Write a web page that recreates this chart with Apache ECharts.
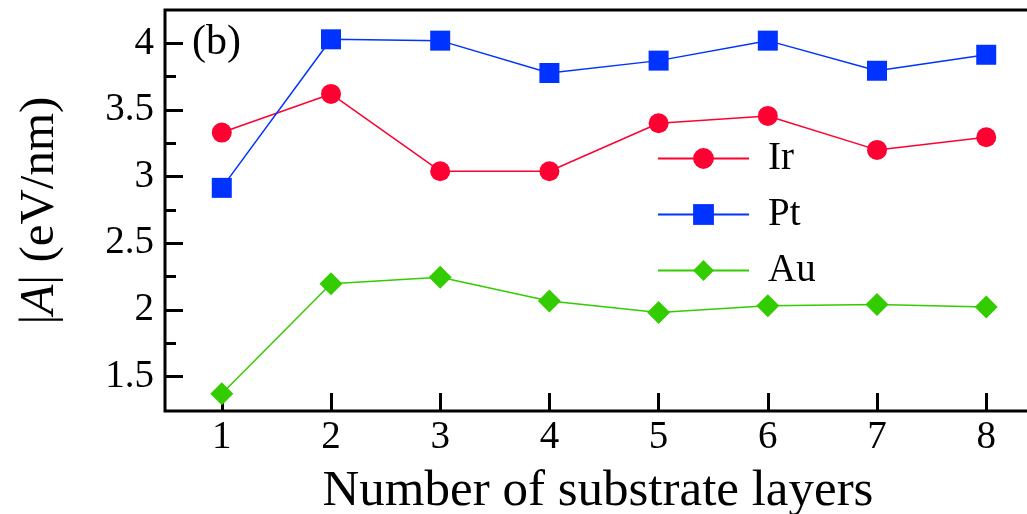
<!DOCTYPE html>
<html>
<head>
<meta charset="utf-8">
<script src="https://cdn.jsdelivr.net/npm/echarts@6/dist/echarts.min.js"></script>
<style>html,body{margin:0;padding:0;background:#fff;}#c{width:1027px;height:514px;}</style>
</head>
<body>
<div id="c"></div>
<script>
const layers = [1, 2, 3, 4, 5, 6, 7, 8];
const irValues = [3.33, 3.62, 3.04, 3.04, 3.40, 3.455, 3.20, 3.295];
const ptValues = [2.915, 4.03, 4.02, 3.777, 3.87, 4.02, 3.794, 3.914];
const auValues = [1.37, 2.195, 2.244, 2.065, 1.98, 2.03, 2.04, 2.02];
const yMajorTicks = [1.5, 2, 2.5, 3, 3.5, 4];
const yMinorTicks = [1.75, 2.25, 2.75, 3.25, 3.75];
const xTicks = [1, 2, 3, 4, 5, 6, 7, 8];

const pair = (vals) => layers.map((x, i) => [x, vals[i]]);
const font = 'Liberation Serif';
const XMIN = 0.48, XMAX = 8.41, YMIN = 1.24, YMAX = 4.25;

const chart = echarts.init(document.getElementById('c'));
chart.setOption({
  animation: false,
  backgroundColor: '#fff',
  grid: {
    left: 165, top: 10, right: -4, bottom: 103, containLabel: false, outerBoundsMode: 'none',
    show: true, borderColor: '#000', borderWidth: 3, backgroundColor: 'transparent'
  },
  xAxis: [{
    type: 'value', min: XMIN, max: XMAX, position: 'bottom',
    axisLine: { show: false },
    axisTick: { show: false },
    axisLabel: { show: true, customValues: xTicks.slice(), fontFamily: font, fontSize: 39, color: '#000', margin: 7 },
    splitLine: { show: false },
    name: 'Number of substrate layers', nameLocation: 'middle', nameGap: 55,
    nameTextStyle: { fontFamily: font, fontSize: 51, color: '#000' }
  }, {
    type: 'value', min: XMIN, max: XMAX, position: 'bottom', offset: 0,
    axisLine: { show: false },
    axisTick: { show: true, inside: true, length: 18, lineStyle: { color: '#000', width: 3 }, customValues: xTicks.slice() },
    axisLabel: { show: false }, splitLine: { show: false }
  }],
  yAxis: [{
    type: 'value', min: YMIN, max: YMAX, position: 'left',
    axisLine: { show: false },
    axisTick: { show: true, inside: true, length: 11, lineStyle: { color: '#000', width: 3 }, customValues: yMinorTicks.slice() },
    axisLabel: { show: true, customValues: yMajorTicks.slice(), fontFamily: font, fontSize: 39, color: '#000', margin: 11 },
    splitLine: { show: false },
    name: '{n||}{i|A}{n|| (eV/nm)}', nameLocation: 'middle', nameGap: 100, nameRotate: 90,
    nameTextStyle: {
      fontFamily: font, fontSize: 49, color: '#000',
      rich: {
        i: { fontFamily: font, fontSize: 49, fontStyle: 'italic', color: '#000' },
        n: { fontFamily: font, fontSize: 49, color: '#000' }
      }
    }
  }, {
    type: 'value', min: YMIN, max: YMAX, position: 'left', offset: 0,
    axisLine: { show: false },
    axisTick: { show: true, inside: true, length: 18, lineStyle: { color: '#000', width: 3 }, customValues: yMajorTicks.slice() },
    axisLabel: { show: false }, splitLine: { show: false }
  }],
  legend: {
    orient: 'vertical', left: 652, top: 134,
    itemWidth: 91, itemHeight: 26, itemGap: 17,
    textStyle: { fontFamily: font, fontSize: 39, color: '#000', lineHeight: 38, padding: [0, 0, 0, 14] },
    data: ['Ir', 'Pt', 'Au']
  },
  graphic: [{
    type: 'text', left: 192, top: 22,
    style: { text: '(b)', fontFamily: font, fontSize: 42, fill: '#000' }
  }],
  series: [{
    name: 'Ir', type: 'line', data: pair(irValues),
    symbol: 'circle', symbolSize: 20,
    lineStyle: { color: '#ff0033', width: 1.5 }, itemStyle: { color: '#ff0033' }
  }, {
    name: 'Pt', type: 'line', data: pair(ptValues),
    symbol: 'rect', symbolSize: 20,
    lineStyle: { color: '#0033ff', width: 1.5 }, itemStyle: { color: '#0033ff' }
  }, {
    name: 'Au', type: 'line', data: pair(auValues),
    symbol: 'diamond', symbolSize: 23,
    lineStyle: { color: '#33cc00', width: 1.5 }, itemStyle: { color: '#33cc00' }
  }]
});
</script>
</body>
</html>
